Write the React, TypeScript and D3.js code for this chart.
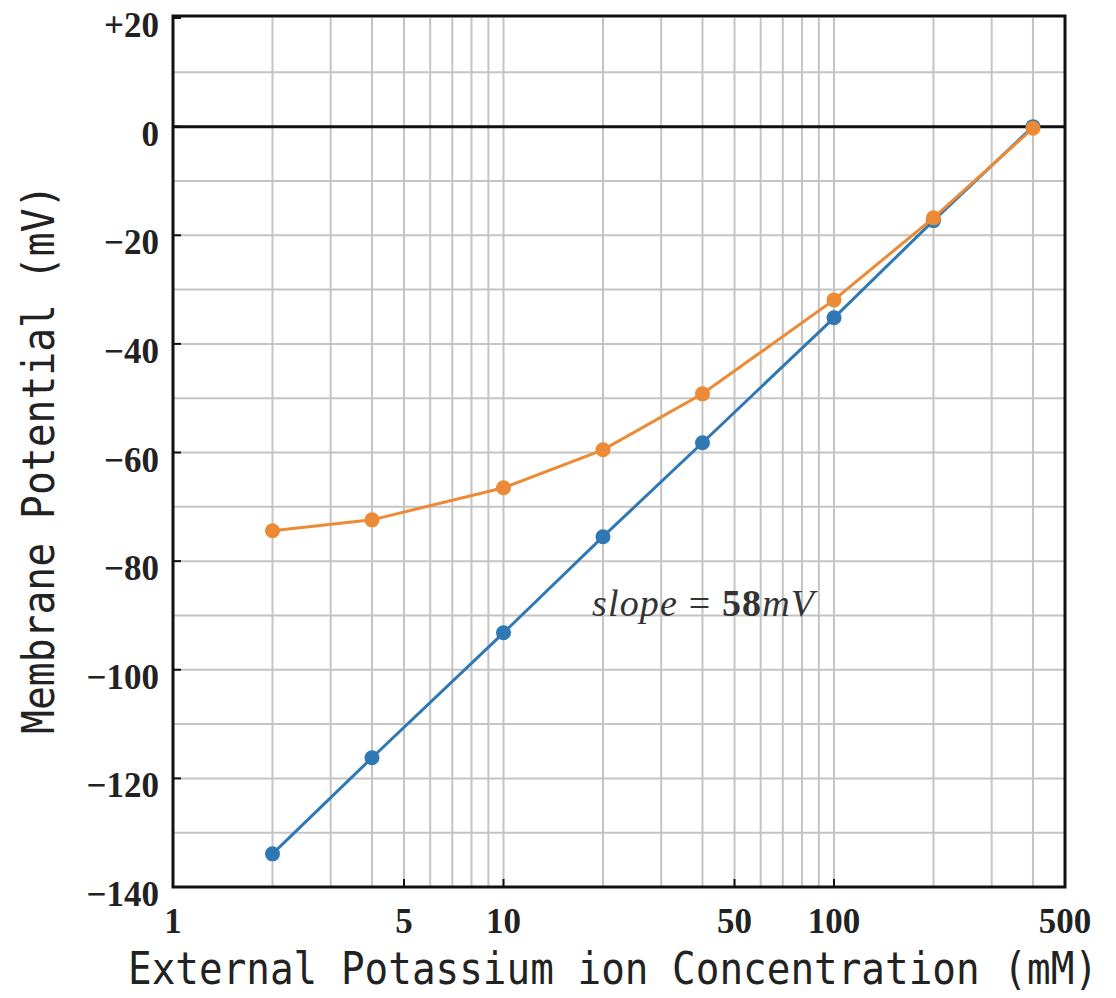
import { useMemo } from "react";
import * as d3 from "d3";

const WIDTH = 1116;
const HEIGHT = 998;
const PLOT = { left: 173, right: 1065, top: 18, bottom: 887 };

const concentrations = [2, 4, 10, 20, 40, 100, 200, 400];
const nernstValues = [-133.9, -116.2, -93.2, -75.5, -58.2, -35.2, -17.3, 0];
const measuredValues = [-74.4, -72.4, -66.5, -59.5, -49.2, -31.9, -16.8, -0.3];

const xTickLabels = [1, 5, 10, 50, 100, 500];
const yTickLabels = [20, 0, -20, -40, -60, -80, -100, -120, -140];

const BLUE = "#2f78b4";
const ORANGE = "#ec8a35";
const GRID = "#c4c4c4";

const fmtY = (v: number) => (v > 0 ? `+${v}` : v < 0 ? `\u2212${Math.abs(v)}` : "0");

export default function App() {
  const x = useMemo(
    () => d3.scaleLog().domain([1, 500]).range([PLOT.left, PLOT.right]),
    []
  );
  const y = useMemo(
    () => d3.scaleLinear().domain([-140, 20]).range([PLOT.bottom, PLOT.top]),
    []
  );

  // minor log grid: 2..9, 20..90, 200..400
  const xGrid: number[] = [];
  for (let dec = 1; dec <= 100; dec *= 10) {
    for (let m = 1; m <= 9; m++) {
      const v = m * dec;
      if (v > 1 && v < 500) xGrid.push(v);
    }
  }
  const yGrid = d3.range(-130, 20, 10);

  const line = d3
    .line<number>()
    .x((_, i) => x(concentrations[i]))
    .y((d) => y(d));

  const series = [
    { values: nernstValues, color: BLUE },
    { values: measuredValues, color: ORANGE },
  ];

  const serif = "'Liberation Serif', 'Times New Roman', serif";
  const mono = "'DejaVu Sans Mono', 'Liberation Mono', monospace";

  return (
    <svg
      width={WIDTH}
      height={HEIGHT}
      style={{ position: "absolute", left: 0, top: 0, background: "#fff" }}
    >
      <rect width={WIDTH} height={HEIGHT} fill="#fff" />

      {/* grid */}
      {xGrid.map((v) => (
        <line
          key={"gx" + v}
          x1={x(v)}
          x2={x(v)}
          y1={PLOT.top}
          y2={PLOT.bottom}
          stroke={GRID}
          strokeWidth={2}
        />
      ))}
      {yGrid.map((v) => (
        <line
          key={"gy" + v}
          x1={PLOT.left}
          x2={PLOT.right}
          y1={y(v)}
          y2={y(v)}
          stroke={GRID}
          strokeWidth={2}
        />
      ))}

      {/* zero line */}
      <line
        x1={PLOT.left}
        x2={PLOT.right}
        y1={y(0)}
        y2={y(0)}
        stroke="#111"
        strokeWidth={3}
      />

      {/* inner ticks */}
      {yTickLabels.map((v) => (
        <line
          key={"ty" + v}
          x1={PLOT.left}
          x2={PLOT.left + 8}
          y1={y(v)}
          y2={y(v)}
          stroke="#111"
          strokeWidth={2}
        />
      ))}
      {xTickLabels.map((v) => (
        <line
          key={"tx" + v}
          x1={x(v)}
          x2={x(v)}
          y1={PLOT.bottom}
          y2={PLOT.bottom - 8}
          stroke="#111"
          strokeWidth={2}
        />
      ))}

      {/* frame */}
      <rect
        x={PLOT.left}
        y={PLOT.top - 2}
        width={PLOT.right - PLOT.left}
        height={PLOT.bottom - PLOT.top + 2}
        fill="none"
        stroke="#111"
        strokeWidth={3}
      />

      {/* series */}
      {series.map((s, si) => (
        <g key={si}>
          <path
            d={line(s.values) ?? ""}
            fill="none"
            stroke={s.color}
            strokeWidth={3}
          />
          {s.values.map((v, i) => (
            <circle
              key={i}
              cx={x(concentrations[i])}
              cy={y(v)}
              r={7.5}
              fill={s.color}
            />
          ))}
        </g>
      ))}

      {/* y tick labels */}
      {yTickLabels.map((v) => (
        <text
          key={"ly" + v}
          x={159}
          y={y(v) + 19}
          textAnchor="end"
          fontFamily={serif}
          fontWeight="bold"
          fontSize={35}
          fill="#222"
        >
          {fmtY(v)}
        </text>
      ))}

      {/* x tick labels */}
      {xTickLabels.map((v) => (
        <text
          key={"lx" + v}
          x={x(v)}
          y={933}
          textAnchor="middle"
          fontFamily={serif}
          fontWeight="bold"
          fontSize={35}
          fill="#222"
        >
          {v}
        </text>
      ))}

      {/* slope annotation */}
      <text
        x={592}
        y={616}
        textLength={222}
        lengthAdjust="spacing"
        fontFamily={serif}
        fontSize={38}
        fill="#333"
      >
        <tspan fontStyle="italic">slope</tspan>
        <tspan>{" = "}</tspan>
        <tspan fontWeight="bold">58</tspan>
        <tspan fontStyle="italic">mV</tspan>
      </text>

      {/* axis titles */}
      <text
        transform="translate(128, 984) scale(1, 1.12)"
        x={0}
        y={0}
        fontFamily={mono}
        fontSize={39.3}
        fill="#222"
      >
        External Potassium ion Concentration (mM)
      </text>
      <text
        transform="translate(54, 734) rotate(-90) scale(1, 1.12)"
        x={0}
        y={0}
        fontFamily={mono}
        fontSize={39.7}
        fill="#222"
      >
        Membrane Potential (mV)
      </text>
    </svg>
  );
}
